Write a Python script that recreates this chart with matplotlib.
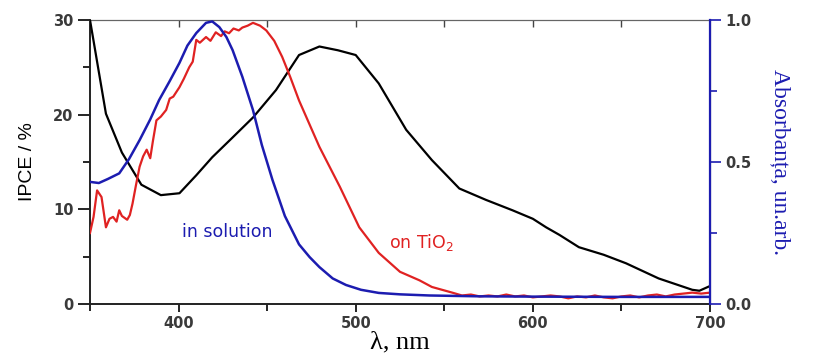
import matplotlib
matplotlib.use("Agg")
import matplotlib.pyplot as plt
from matplotlib.ticker import MultipleLocator

# ---- data ----
black_x = [350, 359, 368, 379, 390, 400.5, 410, 419, 430, 442, 455, 468, 479.5, 490, 500,
           513, 528.5, 543, 558.5, 573.5, 588.5, 600, 607.5, 615, 626, 640, 652.6, 671, 690, 694, 700]
black_y = [30.0, 20.1, 16.0, 12.6, 11.5, 11.7, 13.6, 15.5, 17.5, 19.7, 22.6, 26.3, 27.2, 26.8, 26.3,
           23.3, 18.4, 15.2, 12.2, 11.0, 9.9, 9.0, 8.1, 7.3, 6.0, 5.2, 4.3, 2.7, 1.5, 1.4, 1.9]

red_x = [350, 352, 354, 356.5, 359, 361, 363, 365, 366.5, 368, 371, 372.5, 374, 376, 378, 380, 382,
         384, 385.5, 387.5, 390, 393, 395, 397, 400.5, 403, 406, 408, 410, 412, 415.5, 418, 421,
         424, 426, 428.5, 431, 434, 436, 439, 442, 446, 449.5, 454, 458.5, 463, 468, 479.5, 491,
         502, 513, 525, 536, 543, 554.5, 560, 565, 570, 575, 580, 585, 590, 595, 600, 605, 610,
         615, 620, 625, 630, 635, 640, 645, 650, 655, 660, 665, 670, 675, 680, 685, 690, 695, 700]
red_y = [7.5, 9.2, 12.0, 11.3, 8.1, 9.0, 9.2, 8.7, 9.9, 9.3, 8.9, 9.4, 10.6, 12.6, 14.5, 15.6, 16.3,
         15.4, 17.2, 19.4, 19.8, 20.5, 21.7, 21.9, 22.9, 23.8, 25.0, 25.6, 27.9, 27.6, 28.2, 27.8, 28.7,
         28.3, 28.8, 28.6, 29.1, 28.9, 29.2, 29.4, 29.7, 29.4, 28.9, 27.8, 26.1, 24.0, 21.5, 16.6, 12.4,
         8.1, 5.4, 3.4, 2.5, 1.8, 1.2, 0.9, 1.0, 0.8, 0.9, 0.8, 1.0, 0.8, 0.9, 0.7, 0.8, 0.9,
         0.8, 0.6, 0.8, 0.7, 0.9, 0.7, 0.6, 0.8, 0.9, 0.7, 0.9, 1.0, 0.8, 1.0, 1.1, 1.2, 1.1, 1.2]

blue_x = [350, 355, 360, 366.5, 372, 378, 384, 389, 395, 400.5, 405, 410, 415.5, 419, 423, 427,
          430.5, 436, 442, 447, 453, 460, 468, 474, 479.5, 487, 494.5, 503, 513, 525, 541.5, 570,
          600, 650, 700]
blue_y = [0.43, 0.426, 0.44, 0.46, 0.51, 0.577, 0.65, 0.718, 0.785, 0.849, 0.91, 0.954, 0.99, 0.995,
          0.975, 0.94, 0.894, 0.80, 0.683, 0.56, 0.437, 0.31, 0.21, 0.165, 0.13, 0.09, 0.067, 0.05,
          0.039, 0.034, 0.03, 0.027, 0.026, 0.025, 0.025]

x_ticks = [400, 500, 600, 700]
y_ticks = [0, 10, 20, 30]
r_ticks = [0.0, 0.5, 1.0]
r_tick_labels = ["0.0", "0.5", "1.0"]

BLUE = "#1c1cb0"
RED = "#e02222"
TICK_COLOR = "#3a3a3a"

fig = plt.figure(figsize=(8.14, 3.58), dpi=100)
ax = fig.add_axes([90 / 814, 1 - 304 / 358, 620 / 814, 284 / 358])
ax2 = ax.twinx()

ax.plot(black_x, black_y, color="black", lw=1.6, zorder=3)
ax.plot(red_x, red_y, color=RED, lw=1.6, zorder=3)
ax2.plot(blue_x, blue_y, color=BLUE, lw=1.8, zorder=3)

ax.set_xlim(350, 700)
ax.set_ylim(0, 30)
ax2.set_ylim(0, 1.0)

ax.set_xticks(x_ticks)
ax.xaxis.set_minor_locator(MultipleLocator(50))
ax.set_yticks(y_ticks)
ax.yaxis.set_minor_locator(MultipleLocator(5))
ax.tick_params(axis="x", which="major", direction="out", length=6, width=1.2, top=False,
               labelsize=10.5, labelcolor=TICK_COLOR, pad=3)
ax.tick_params(axis="x", which="minor", direction="out", length=5, width=1.2, top=False)
ax.tick_params(axis="y", which="major", direction="out", length=9, width=1.2,
               labelsize=10.5, labelcolor=TICK_COLOR, pad=3)
ax.tick_params(axis="y", which="minor", direction="out", length=5, width=1.2)

# top inward ticks
secx = ax.secondary_xaxis("top")
secx.set_xticks([400, 450, 500, 550, 600, 650])
secx.tick_params(direction="in", length=5, width=1.0, labeltop=False, color="#444444")
secx.spines["top"].set_color("#555555")

ax2.set_yticks(r_ticks)
ax2.set_yticklabels(r_tick_labels)
ax2.yaxis.set_minor_locator(MultipleLocator(0.25))
ax2.tick_params(axis="y", which="major", direction="out", length=8, width=1.2, color=BLUE,
                labelsize=10.5, labelcolor=TICK_COLOR, pad=3)
ax2.tick_params(axis="y", which="minor", direction="out", length=5, width=1.2, color=BLUE)

for s in ["left", "bottom"]:
    ax.spines[s].set_linewidth(1.4)
    ax.spines[s].set_color("#222222")
ax.spines["top"].set_color("#666666")
ax2.spines["right"].set_color(BLUE)
ax2.spines["right"].set_linewidth(1.6)
ax2.spines["left"].set_visible(False)
ax2.spines["top"].set_visible(False)
ax2.spines["bottom"].set_visible(False)

for lab in ax.get_xticklabels() + ax.get_yticklabels() + ax2.get_yticklabels():
    lab.set_family("DejaVu Sans")
    lab.set_fontweight("bold")

ax.set_ylabel("IPCE / %", family=["Liberation Sans Narrow", "Liberation Sans"], fontsize=14,
              labelpad=12)
ax.set_xlabel("λ, nm", family="Liberation Serif", fontsize=19, labelpad=0)
ax2.set_ylabel("Absorbanța, un.arb.", family="Liberation Serif", fontsize=17, color=BLUE,
               rotation=270, labelpad=28)

ax.text(402, 7.6, "in solution", color=BLUE, fontsize=12.5, family="DejaVu Sans", va="center")
ax.text(519, 6.5, "on TiO$_2$", color=RED, fontsize=12.5, family="DejaVu Sans", va="center")

fig.savefig("out.png", dpi=100)
